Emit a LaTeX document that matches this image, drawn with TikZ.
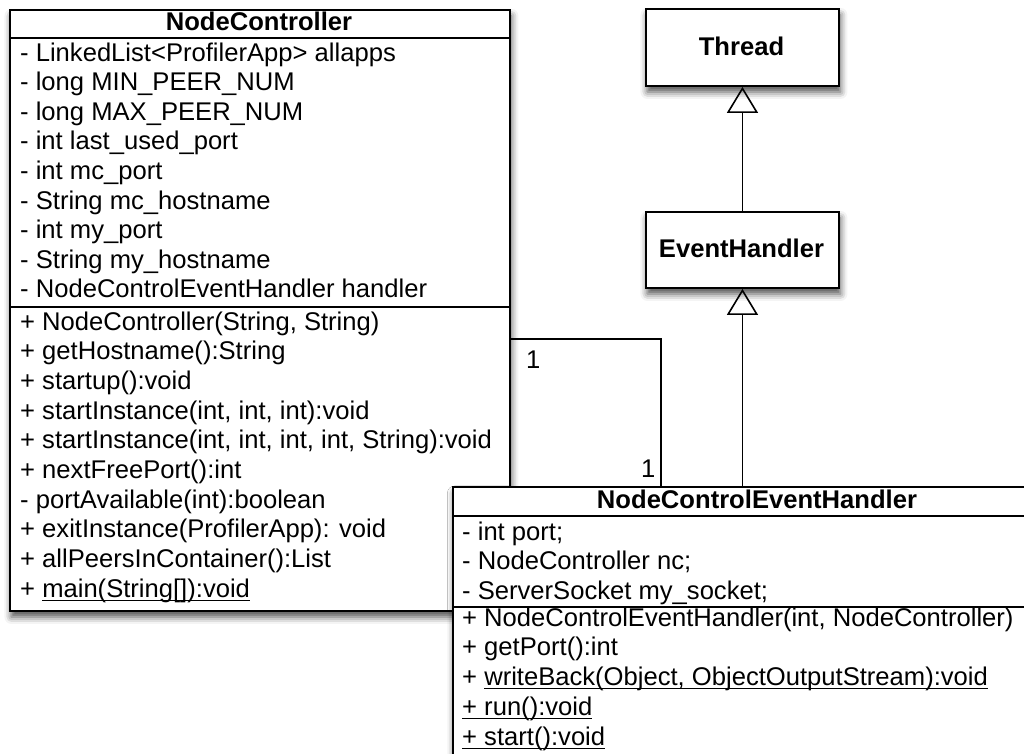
\documentclass[tikz,border=0pt]{standalone}
\usepackage{fontspec}
\setmainfont{Liberation Sans}
\usetikzlibrary{arrows.meta,shadows.blur}

\newcommand{\umlfont}{\fontsize{25.6}{30}\selectfont}
% underline drawn close to the baseline, as UML static members are shown
\newcommand{\staticul}[1]{\setbox0\hbox{#1}\rlap{\rule[-3.6pt]{\wd0}{1.1pt}}\box0}

\tikzset{
  x=1pt, y=-1pt,
  umlbox/.style={draw=black, line width=1.9pt, fill=white, inner sep=0pt,
    anchor=north west,
    blur shadow={shadow xshift=1.5pt, shadow yshift=-6pt,
                 shadow blur radius=7pt, shadow opacity=70}},
  compartment/.style={line width=1.8pt},
  member/.style={anchor=base west, inner sep=0pt, font=\umlfont},
  classname/.style={anchor=base, inner sep=0pt, font=\umlfont\bfseries},
  mult/.style={anchor=base west, inner sep=0pt, font=\umlfont},
  assoc/.style={line width=1.5pt},
  inherit/.style={line width=1.8pt,
    -{Triangle[open, length=26pt, width=31pt, line width=1.6pt]}},
}

\begin{document}
\begin{tikzpicture}
\useasboundingbox (0,0) rectangle (1024,753);
\clip (0,0) rectangle (1024,753);

% ---------- NodeController ----------
\node[umlbox, minimum width=500pt, minimum height=601pt] (nc) at (9,9) {};
\draw[compartment] (nc.west |- 0,38) -- (nc.east |- 0,38);
\draw[compartment] (nc.west |- 0,307) -- (nc.east |- 0,307);
\node[classname] (nc-title) at (259,30) {NodeController};
\foreach \t [count=\i] in {
  {- LinkedList<ProfilerApp> allapps},
  {- long MIN\_PEER\_NUM},
  {- long MAX\_PEER\_NUM},
  {- int last\_used\_port},
  {- int mc\_port},
  {- String mc\_hostname},
  {- int my\_port},
  {- String my\_hostname},
  {- NodeControlEventHandler handler}}
  \node[member] (nc-attr\i) at (20,{61+(\i-1)*29.6}) {\t};
\foreach \t [count=\i] in {
  {+ NodeController(String, String)},
  {+ getHostname():String},
  {+ startup():void},
  {+ startInstance(int, int, int):void},
  {+ startInstance(int, int, int, int, String):void},
  {+ nextFreePort():int},
  {- portAvailable(int):boolean},
  {+ exitInstance(ProfilerApp): void},
  {+ allPeersInContainer():List},
  {+ \staticul{main(String[]):void}}}
  \node[member] (nc-op\i) at (20,{330+(\i-1)*29.7}) {\t};

% ---------- association NodeController -- NodeControlEventHandler ----------
\coordinate (bend) at (661,339);

% ---------- Thread / EventHandler ----------
\node[umlbox, minimum width=193pt, minimum height=77pt] (thread) at (645,8) {};
\node[classname] (thread-title) at (741.5,55) {Thread};
\node[umlbox, minimum width=193pt, minimum height=76pt] (eh) at (645,211) {};
\node[classname] (eh-title) at (741.5,257) {EventHandler};
\draw[inherit] (eh.north) -- (thread.south);

% ---------- NodeControlEventHandler ----------
\node[umlbox, minimum width=610pt, minimum height=320pt] (nceh) at (452,486) {};
\draw[assoc] (nc.east |- bend) -- (bend) -- (bend |- nceh.north);
\node[mult] (m-nc) at (526,368) {1};
\node[mult] (m-nceh) at (641,477) {1};
\draw[inherit] (nceh.north -| eh.south) -- (eh.south);
\draw[compartment] (nceh.west |- 0,516) -- (nceh.east |- 0,516);
\draw[compartment] (nceh.west |- 0,607) -- (nceh.east |- 0,607);
\node[classname] (nceh-title) at (757,508) {NodeControlEventHandler};
\foreach \t [count=\i] in {
  {- int port;},
  {- NodeController nc;},
  {- ServerSocket my\_socket;}}
  \node[member] (nceh-attr\i) at (462,{540+(\i-1)*29.6}) {\t};
\foreach \t [count=\i] in {
  {+ NodeControlEventHandler(int, NodeController)},
  {+ getPort():int},
  {+ \staticul{writeBack(Object, ObjectOutputStream):void}},
  {\staticul{+ run():void}},
  {\staticul{+ start():void}}}
  \node[member] (nceh-op\i) at (462,{626+(\i-1)*29.8}) {\t};
\end{tikzpicture}
\end{document}
